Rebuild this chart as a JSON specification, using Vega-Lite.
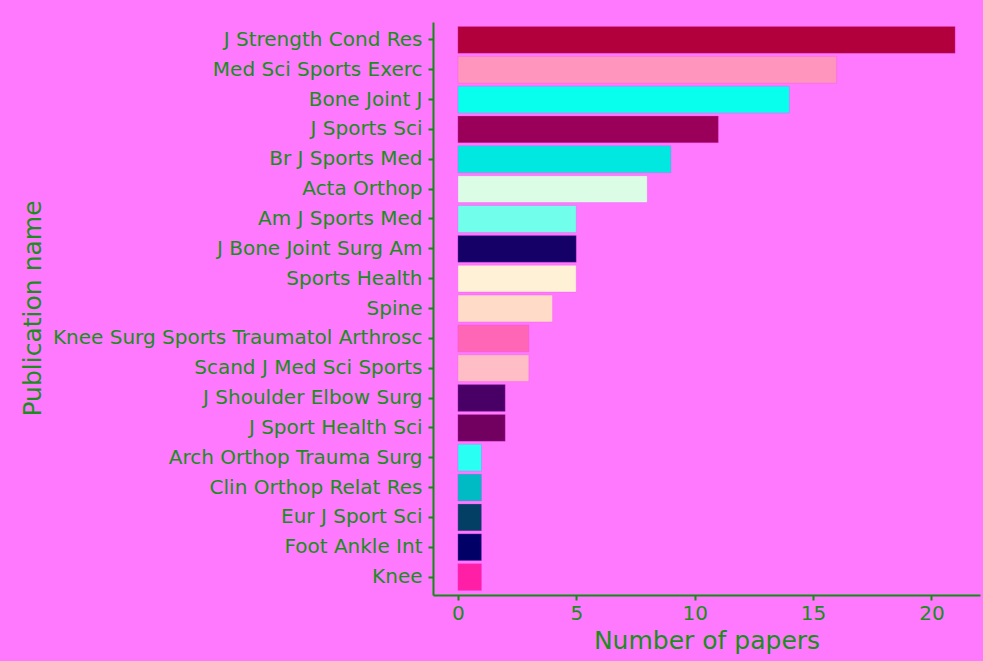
{
  "$schema": "https://vega.github.io/schema/vega-lite/v6.json",
  "width": 547,
  "height": 573,
  "autosize": {"type": "none"},
  "padding": {"left": 433, "top": 22, "right": 3, "bottom": 66},
  "background": "#ff79ff",
  "config": {
    "view": {"stroke": null},
    "font": "DejaVu Sans",
    "axis": {
      "domainColor": "#138a13",
      "domainWidth": 2,
      "tickColor": "#138a13",
      "tickWidth": 2,
      "tickSize": 5,
      "labelColor": "#1c8c1c",
      "titleColor": "#1c8c1c",
      "labelFont": "DejaVu Sans",
      "titleFont": "DejaVu Sans",
      "labelFontSize": 20,
      "titleFontSize": 25,
      "titleFontWeight": "normal",
      "labelLimit": 500,
      "grid": false
    }
  },
  "data": {
    "values": [
      {"journal": "J Strength Cond Res", "papers": 21, "color": "#b1003c"},
      {"journal": "Med Sci Sports Exerc", "papers": 16, "color": "#ff94bd"},
      {"journal": "Bone Joint J", "papers": 14, "color": "#08ffee"},
      {"journal": "J Sports Sci", "papers": 11, "color": "#9a0059"},
      {"journal": "Br J Sports Med", "papers": 9, "color": "#00e8e0"},
      {"journal": "Acta Orthop", "papers": 8, "color": "#dbfde6"},
      {"journal": "Am J Sports Med", "papers": 5, "color": "#71ffec"},
      {"journal": "J Bone Joint Surg Am", "papers": 5, "color": "#140066"},
      {"journal": "Sports Health", "papers": 5, "color": "#fff1d6"},
      {"journal": "Spine", "papers": 4, "color": "#ffdbc8"},
      {"journal": "Knee Surg Sports Traumatol Arthrosc", "papers": 3, "color": "#ff66b5"},
      {"journal": "Scand J Med Sci Sports", "papers": 3, "color": "#ffbdc5"},
      {"journal": "J Shoulder Elbow Surg", "papers": 2, "color": "#480066"},
      {"journal": "J Sport Health Sci", "papers": 2, "color": "#720060"},
      {"journal": "Arch Orthop Trauma Surg", "papers": 1, "color": "#29fff2"},
      {"journal": "Clin Orthop Relat Res", "papers": 1, "color": "#00bac4"},
      {"journal": "Eur J Sport Sci", "papers": 1, "color": "#033f64"},
      {"journal": "Foot Ankle Int", "papers": 1, "color": "#000066"},
      {"journal": "Knee", "papers": 1, "color": "#ff1fa6"}
    ]
  },
  "mark": {"type": "bar", "stroke": "#f040f0", "strokeWidth": 0.5, "strokeOpacity": 0.6},
  "encoding": {
    "y": {
      "field": "journal",
      "type": "nominal",
      "sort": null,
      "scale": {"paddingInner": 0.1, "paddingOuter": 0.15},
      "axis": {"title": "Publication name", "labelPadding": 6, "titleX": -401, "titleY": 286, "titleBaseline": "middle", "titleAlign": "center", "titleAngle": -90}
    },
    "x": {
      "field": "papers",
      "type": "quantitative",
      "scale": {"domain": [-1.05, 22.05], "nice": false, "zero": false},
      "axis": {"title": "Number of papers", "values": [0, 5, 10, 15, 20], "labelPadding": 3, "titlePadding": 5}
    },
    "color": {"field": "color", "type": "nominal", "scale": null, "legend": null}
  }
}
